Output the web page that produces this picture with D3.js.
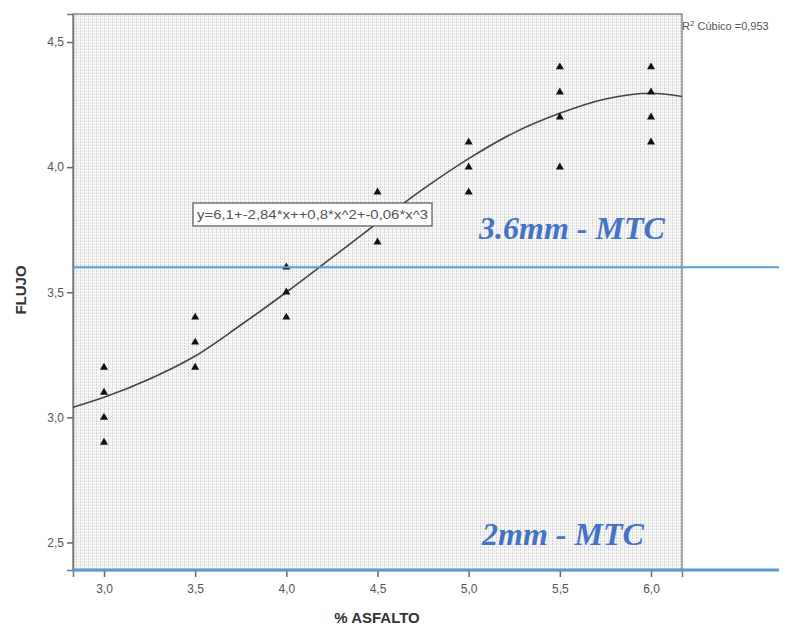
<!DOCTYPE html>
<html>
<head>
<meta charset="utf-8">
<script src="https://cdn.jsdelivr.net/npm/d3@7"></script>
<style>
  html, body { margin: 0; padding: 0; background: #fff; }
  svg { display: block; }
</style>
</head>
<body>
<svg id="chart" width="792" height="629"></svg>
<script>
// ---- data ----
const xTicks = [3.0, 3.5, 4.0, 4.5, 5.0, 5.5, 6.0];
const yTicks = [2.5, 3.0, 3.5, 4.0, 4.5];
const pointsX = [3.0, 3.0, 3.0, 3.0, 3.5, 3.5, 3.5, 4.0, 4.0, 4.0, 4.5, 4.5, 5.0, 5.0, 5.0, 5.5, 5.5, 5.5, 5.5, 6.0, 6.0, 6.0, 6.0];
const pointsY = [3.2, 3.1, 3.0, 2.9, 3.4, 3.3, 3.2, 3.6, 3.5, 3.4, 3.9, 3.7, 4.1, 4.0, 3.9, 4.4, 4.3, 4.2, 4.0, 4.4, 4.3, 4.2, 4.1];
const fitX = [2.83, 3.0, 3.25, 3.5, 3.75, 4.0, 4.25, 4.5, 4.75, 5.0, 5.25, 5.5, 5.75, 6.0, 6.17];
const fitY = [3.04, 3.08, 3.153, 3.245, 3.369, 3.50, 3.638, 3.777, 3.912, 4.034, 4.138, 4.215, 4.272, 4.295, 4.282];
const refValues = [3.6, 2.39];
const refLabels = ["3.6mm - MTC", "2mm - MTC"];
const xTitle = "% ASFALTO";
const yTitle = "FLUJO";
const equation = "y=6,1+-2,84*x++0,8*x^2+-0,06*x^3";
const r2Label = "Cúbico =0,953";

// ---- layout ----
const L = 73, R = 682, T = 14, B = 570;
const svg = d3.select("#chart");
const x = d3.scaleLinear().domain([2.83, 6.17]).range([L, R]);
const y = d3.scaleLinear().domain([2.39, 4.612]).range([B, T]);
const fmt = d => d3.format(".1f")(d).replace(".", ",");

// hatch pattern (light, vertical dotted stripes)
const defs = svg.append("defs");
const pat = defs.append("pattern").attr("id", "hatch").attr("patternUnits", "userSpaceOnUse")
  .attr("width", 4).attr("height", 3);
pat.append("rect").attr("width", 4).attr("height", 3).attr("fill", "#f6f6f6");
pat.append("rect").attr("x", 0).attr("y", 0).attr("width", 1).attr("height", 2).attr("fill", "#d2d2d2");
pat.append("rect").attr("x", 2).attr("y", 1).attr("width", 1).attr("height", 1).attr("fill", "#e2e2e2");

svg.append("rect").attr("x", L).attr("y", T).attr("width", R - L).attr("height", B - T)
  .attr("fill", "url(#hatch)").attr("stroke", "#8a8a8a").attr("stroke-width", 1.5);

// axes
const yAxis = svg.append("g").attr("transform", `translate(${L},0)`)
  .call(d3.axisLeft(y).tickValues(yTicks).tickFormat(fmt).tickSize(6).tickPadding(3));
const xAxis = svg.append("g").attr("transform", `translate(0,${B})`)
  .call(d3.axisBottom(x).tickValues(xTicks).tickFormat(fmt).tickSize(7).tickPadding(7));
[yAxis, xAxis].forEach(g => {
  g.select(".domain").attr("stroke", "#777").attr("stroke-width", 1.5);
  g.selectAll(".tick line").attr("stroke", "#666").attr("stroke-width", 1.5);
  g.selectAll(".tick text").attr("fill", "#555").attr("font-family", "Liberation Sans, Arial, sans-serif").attr("font-size", 12);
});

// fit curve
const line = d3.line().x((d, i) => x(fitX[i])).y((d, i) => y(fitY[i])).curve(d3.curveMonotoneX);
svg.append("path").datum(fitY).attr("d", line).attr("fill", "none").attr("stroke", "#444").attr("stroke-width", 1.6);

// points
const tri = d3.symbol().type(d3.symbolTriangle).size(28);
svg.append("g").selectAll("path").data(pointsY).join("path")
  .attr("d", tri).attr("fill", "#111")
  .attr("transform", (d, i) => `translate(${x(pointsX[i])},${y(d)})`);

// equation box
svg.append("rect").attr("x", 193).attr("y", 203).attr("width", 239).attr("height", 23)
  .attr("fill", "#fff").attr("stroke", "#555").attr("stroke-width", 1.2);
svg.append("text").attr("x", 197).attr("y", 219).text(equation)
  .attr("font-family", "Liberation Sans, Arial, sans-serif").attr("font-size", 12).attr("fill", "#555")
  .attr("textLength", 231).attr("lengthAdjust", "spacingAndGlyphs");

// R2 label
const r2 = svg.append("text").attr("x", 682).attr("y", 30)
  .attr("font-family", "Liberation Sans, Arial, sans-serif").attr("font-size", 11).attr("fill", "#555");
r2.append("tspan").text("R");
r2.append("tspan").text("2").attr("font-size", 8).attr("dy", -4);
r2.append("tspan").text(" " + r2Label).attr("dy", 4);

// reference lines
svg.append("g").selectAll("line").data(refValues).join("line")
  .attr("x1", L).attr("x2", 779)
  .attr("y1", d => y(d)).attr("y2", d => y(d))
  .attr("stroke", "#5b9bd5").attr("stroke-width", (d, i) => i === 0 ? 2.2 : 3);
svg.append("g").selectAll("text").data(refLabels).join("text")
  .attr("x", (d, i) => i === 0 ? 479 : 482)
  .attr("y", (d, i) => i === 0 ? 239 : 545)
  .text(d => d)
  .attr("font-family", "Liberation Serif, Times New Roman, serif")
  .attr("font-weight", "bold").attr("font-style", "italic")
  .attr("font-size", 32).attr("fill", "#4472c4");

// axis titles
svg.append("text").attr("x", 377).attr("y", 623).attr("text-anchor", "middle").text(xTitle)
  .attr("font-family", "Liberation Sans, Arial, sans-serif").attr("font-weight", "bold")
  .attr("font-size", 15).attr("fill", "#333");
svg.append("text").attr("transform", "translate(26,290) rotate(-90)").attr("text-anchor", "middle").text(yTitle)
  .attr("font-family", "Liberation Sans, Arial, sans-serif").attr("font-weight", "bold")
  .attr("font-size", 15).attr("fill", "#333");
</script>
</body>
</html>
